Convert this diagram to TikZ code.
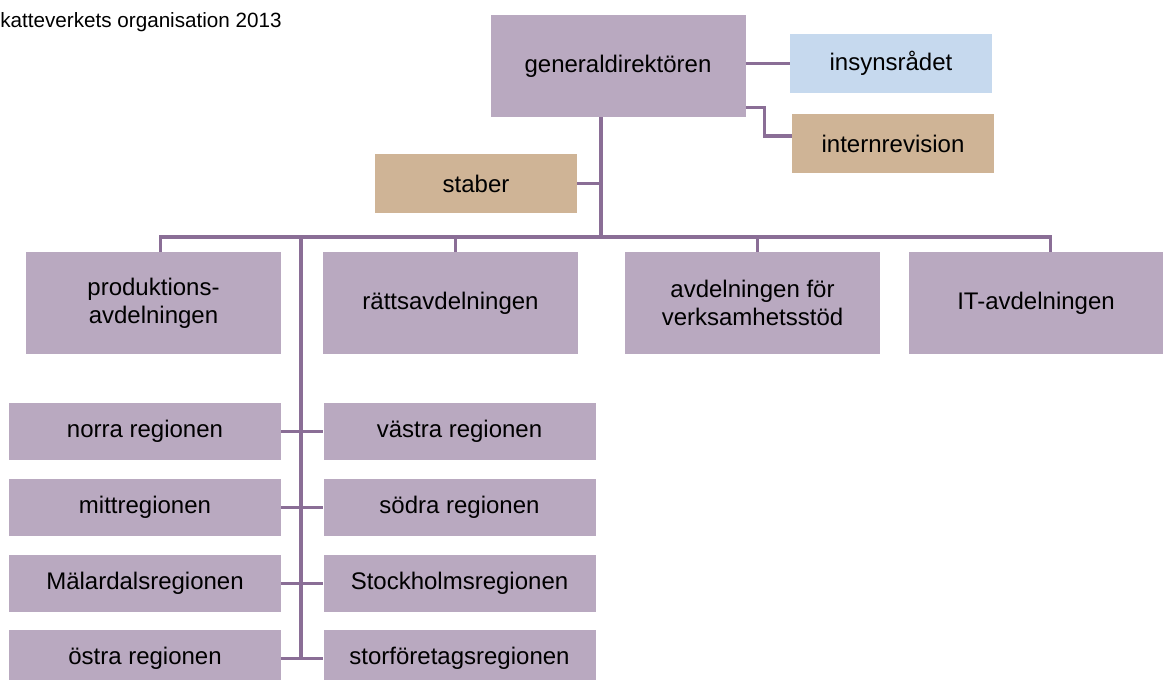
\documentclass[tikz,border=0pt]{standalone}
\usepackage{fontspec}
\setmainfont{Liberation Sans}
\usetikzlibrary{positioning,calc}
\definecolor{lila}{HTML}{B9A9C0}
\definecolor{sand}{HTML}{CFB496}
\definecolor{ljusbla}{HTML}{C6D9EE}
\definecolor{linje}{HTML}{8A6E96}

\begin{document}
\begin{tikzpicture}[x=0.75pt, y=-0.75pt,
  box/.style={fill=lila, minimum width=191.25pt, minimum height=76.5pt, align=center, inner sep=0pt, font=\fontsize{18}{21}\selectfont},
  smallbox/.style={box, minimum width=151.5pt, minimum height=44.25pt},
  regionbox/.style={box, minimum width=204pt, minimum height=42.75pt},
  conn/.style={draw=linje, line width=2.4pt}]
\useasboundingbox (0,0) rectangle (1163,680);
\node[anchor=base west, inner sep=0pt, font=\fontsize{15.5}{18}\selectfont] (titel) at (0,28) {katteverkets organisation 2013};
\node[box] (gd) at (618,66) {generaldirektören};
\node[smallbox, fill=ljusbla] (insyn) at (891,63.5) {insynsrådet};
\node[smallbox, fill=sand] (intrev) at (893,143.5) {internrevision};
\node[smallbox, fill=sand] (staber) at (476,183.5) {staber};
\node[box] (prod) at (153.5,303) {produktions-\\avdelningen};
\node[box] (ratt) at (450.5,303) {rättsavdelningen};
\node[box] (avd) at (752.5,303) {avdelningen för\\verksamhetsstöd};
\node[box] (it) at (1036,303) {IT-avdelningen};
\node[regionbox] (norra) at (145,431.5) {norra regionen};
\node[regionbox] (mitt) at (145,507.5) {mittregionen};
\node[regionbox] (malar) at (145,583.5) {Mälardalsregionen};
\node[regionbox] (ostra) at (145,658.5) {östra regionen};
\node[regionbox] (vastra) at (459.5,431.5) {västra regionen};
\node[regionbox] (sodra) at (459.5,507.5) {södra regionen};
\node[regionbox] (sthlm) at (459.5,583.5) {Stockholmsregionen};
\node[regionbox] (storf) at (459.5,658.5) {storföretagsregionen};
\coordinate (stam) at (601,237);
\coordinate (regx) at (301,237);
\draw[conn] (insyn.west -| gd.east) -- (insyn.west);
\draw[conn] ([yshift=7.5pt]gd.south east) -- ++(19,0) |- ([yshift=5.6pt]intrev.west);
\draw[conn] (gd.south -| stam) -- (stam);
\draw[conn] (staber.east) -- (staber.east -| stam);
\draw[conn] ([xshift=5pt]prod.north) |- (stam) -| ([xshift=11pt]it.north);
\draw[conn] ([xshift=4pt]ratt.north) -- ([xshift=4pt]ratt.north |- stam);
\draw[conn] ([xshift=4pt]avd.north) -- ([xshift=4pt]avd.north |- stam);
\draw[conn] (regx) -- (regx |- ostra.east);
\draw[conn] (norra.east) -- (vastra.west);
\draw[conn] (mitt.east) -- (sodra.west);
\draw[conn] (malar.east) -- (sthlm.west);
\draw[conn] (ostra.east) -- (storf.west);
\end{tikzpicture}
\end{document}
